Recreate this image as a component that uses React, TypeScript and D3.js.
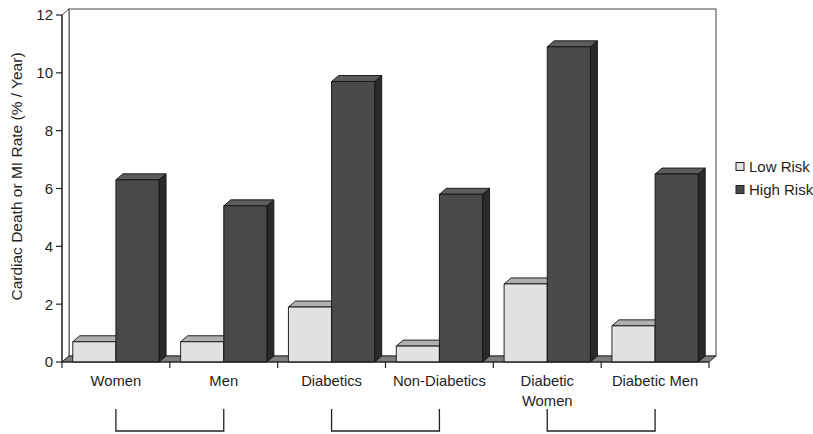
import React from "react";
import * as d3 from "d3";

// Subgroups and their annual event rates
const categories = ["Women", "Men", "Diabetics", "Non-Diabetics", "Diabetic\nWomen", "Diabetic Men"];
const seriesNames = ["Low Risk", "High Risk"];
const lowRisk = [0.7, 0.7, 1.9, 0.55, 2.7, 1.25];
const highRisk = [6.3, 5.4, 9.7, 5.8, 10.9, 6.5];
const yTicks = [0, 2, 4, 6, 8, 10, 12];
// Pairs of categories joined by a bracket under the axis
const bracketPairs = [
  [0, 1],
  [2, 3],
  [4, 5],
];

const W = 813;
const H = 434;
const left = 62;
const right = 709;
const top = 15;
const bottom = 362;
const DX = 7; // depth offset of the 3D projection
const DY = -6;

const FONT = "'Liberation Sans', Arial, Helvetica, sans-serif";
const TEXT = "#1e1e1e";

const colors = {
  low: { front: "#e2e2e2", top: "#b0b0b0", side: "#9a9a9a" },
  high: { front: "#4a4a4a", top: "#5c5c5c", side: "#2a2a2a" },
};

type Face = { front: string; top: string; side: string };

function Bar3D({ x, w, y0, y1, c }: { x: number; w: number; y0: number; y1: number; c: Face }) {
  const pts = (a: [number, number][]) => a.map((p) => p.join(",")).join(" ");
  return (
    <g stroke="#111" strokeWidth={0.9} strokeLinejoin="round">
      <polygon
        points={pts([
          [x + w, y1],
          [x + w + DX, y1 + DY],
          [x + w + DX, y0 + DY],
          [x + w, y0],
        ])}
        fill={c.side}
      />
      <polygon
        points={pts([
          [x, y1],
          [x + DX, y1 + DY],
          [x + w + DX, y1 + DY],
          [x + w, y1],
        ])}
        fill={c.top}
      />
      <rect x={x} y={y1} width={w} height={y0 - y1} fill={c.front} />
    </g>
  );
}

export default function App() {
  const y = d3.scaleLinear().domain([0, 12]).range([bottom, top]);
  const x0 = d3.scaleBand<string>().domain(categories).range([left, right]).padding(0);
  const bw = x0.bandwidth();
  const x1 = d3
    .scaleBand<string>()
    .domain(seriesNames)
    .range([bw * 0.1, bw * 0.9])
    .padding(0);

  const yBack = (v: number) => y(v) + DY;

  return (
    <svg
      width={W}
      height={H}
      style={{ position: "absolute", left: 0, top: 0, background: "#fff" }}
      fontFamily={FONT}
    >
      <rect width={W} height={H} fill="#fff" />

      {/* back wall and left wall */}
      <rect
        x={left + DX}
        y={yBack(12)}
        width={right - left}
        height={y(0) - y(12)}
        fill="#fff"
        stroke="#444"
        strokeWidth={1}
      />
      <polygon
        points={`${left},${y(12)} ${left + DX},${yBack(12)} ${left + DX},${yBack(0)} ${left},${y(0)}`}
        fill="#fff"
        stroke="#444"
        strokeWidth={1}
      />

      {/* floor */}
      <polygon
        points={`${left},${y(0)} ${left + DX},${yBack(0)} ${right + DX},${yBack(0)} ${right},${y(0)}`}
        fill="#7e7e7e"
        stroke="#222"
        strokeWidth={0.9}
      />

      {/* bars */}
      {categories.map((cat, i) => {
        const base = x0(cat)!;
        return (
          <g key={cat}>
            <Bar3D x={base + x1("Low Risk")!} w={x1.bandwidth()} y0={y(0)} y1={y(lowRisk[i])} c={colors.low} />
            <Bar3D x={base + x1("High Risk")!} w={x1.bandwidth()} y0={y(0)} y1={y(highRisk[i])} c={colors.high} />
          </g>
        );
      })}

      {/* y axis */}
      <line x1={left} x2={left} y1={y(12)} y2={y(0)} stroke="#222" strokeWidth={1.2} />
      {yTicks.map((t) => (
        <g key={t}>
          <line x1={left - 6} x2={left} y1={y(t)} y2={y(t)} stroke="#222" strokeWidth={1.2} />
          <text
            x={left - 9}
            y={y(t)}
            dy="0.36em"
            textAnchor="end"
            fontSize={15}
            fill={TEXT}
          >
            {t}
          </text>
        </g>
      ))}
      <text
        transform={`translate(22,${(y(0) + y(12)) / 2 - 12}) rotate(-90)`}
        textAnchor="middle"
        fontSize={15.5}
        fill={TEXT}
      >
        Cardiac Death or MI Rate (% / Year)
      </text>

      {/* x axis */}
      <line x1={left} x2={right} y1={y(0)} y2={y(0)} stroke="#222" strokeWidth={1.2} />
      {categories.map((cat) => x0(cat)!).concat([right]).map((tx, i) => (
        <line key={i} x1={tx} x2={tx} y1={y(0)} y2={y(0) + 6} stroke="#222" strokeWidth={1.2} />
      ))}
      {categories.map((cat) => {
        const cx = x0(cat)! + bw / 2;
        return (
          <text key={cat} x={cx} y={386} textAnchor="middle" fontSize={14.8} fill={TEXT}>
            {cat.split("\n").map((ln, k) => (
              <tspan key={k} x={cx} dy={k === 0 ? 0 : 20}>
                {ln}
              </tspan>
            ))}
          </text>
        );
      })}

      {/* brackets */}
      {bracketPairs.map(([a, b], i) => {
        const xa = x0(categories[a])! + bw / 2;
        const xb = x0(categories[b])! + bw / 2;
        return (
          <path
            key={i}
            d={`M${xa},409 V431 H${xb} V409`}
            fill="none"
            stroke="#222"
            strokeWidth={1.3}
          />
        );
      })}

      {/* legend */}
      {seriesNames.map((s, i) => {
        const c = i === 0 ? colors.low : colors.high;
        const ly = 167 + i * 23;
        return (
          <g key={s}>
            <rect x={736} y={ly - 4.5} width={8} height={8} fill={c.front} stroke="#222" strokeWidth={1} />
            <text x={749} y={ly} dy="0.36em" fontSize={15} fill={TEXT}>
              {s}
            </text>
          </g>
        );
      })}
    </svg>
  );
}
